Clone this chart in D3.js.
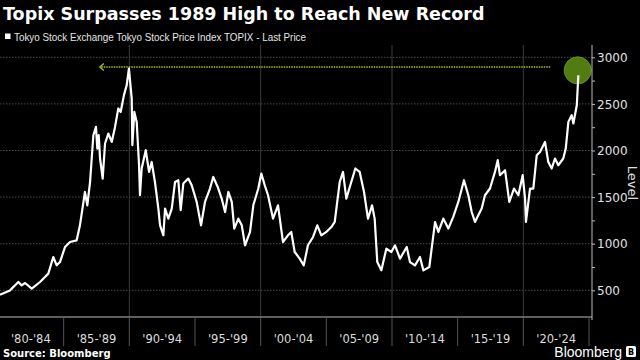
<!DOCTYPE html>
<html><head><meta charset="utf-8">
<script src="https://cdn.jsdelivr.net/npm/d3@7/dist/d3.min.js"></script>
<style>
html,body{margin:0;padding:0;background:#000;}
svg{display:block;}
</style></head>
<body>
<svg id="chart" width="640" height="360"></svg>
<script>
// ---- Data ----
const title = "Topix Surpasses 1989 High to Reach New Record";
const legendLabel = "Tokyo Stock Exchange Tokyo Stock Price Index TOPIX - Last Price";
const periodLabels = ["'80-'84","'85-'89","'90-'94","'95-'99","'00-'04","'05-'09","'10-'14","'15-'19","'20-'24"];
const periodStarts = [1980,1985,1990,1995,2000,2005,2010,2015,2020];
const yTicks = [500,1000,1500,2000,2500,3000];
const years = [
1980.15,1980.91,1981.55,1981.80,1982.06,1982.57,1983.20,1983.83,1984.21,1984.47,1984.72,
1985.10,1985.48,1985.99,1986.24,1986.62,1986.80,1987.01,1987.26,1987.46,1987.56,1987.67,1987.77,1987.97,
1988.15,1988.40,1988.66,1988.91,1989.16,1989.34,1989.59,1989.80,1989.97,
1990.18,1990.23,1990.38,1990.56,1990.74,1990.81,1990.94,1991.25,1991.50,1991.70,1991.95,
1992.21,1992.34,1992.59,1992.72,1992.97,1993.23,1993.48,1993.73,1993.91,1994.11,1994.49,1994.75,
1995.13,1995.46,1995.76,1996.14,1996.39,1996.73,1997.03,1997.29,1997.54,1997.80,1997.99,
1998.30,1998.56,1998.81,1999.19,1999.44,1999.82,
2000.05,2000.31,2000.56,2000.94,2001.32,2001.70,2002.08,2002.33,2002.59,2002.97,2003.28,2003.60,2003.99,
2004.31,2004.62,2005.00,2005.38,2005.64,2006.02,2006.27,2006.52,2006.90,2007.21,2007.54,2007.87,
2008.17,2008.48,2008.68,2008.88,2009.19,2009.57,2009.95,
2010.23,2010.61,2011.12,2011.37,2011.75,2012.13,2012.39,2012.84,2013.28,2013.53,2013.91,2014.29,2014.67,
2015.05,2015.48,2015.81,2016.07,2016.32,2016.57,2016.83,2017.08,2017.46,2017.84,2018.05,2018.22,2018.61,2018.93,
2019.29,2019.62,2019.95,2020.13,2020.20,2020.51,2020.76,2021.02,2021.27,2021.65,2021.90,
2022.16,2022.41,2022.66,2023.04,2023.23,2023.43,2023.68,2023.81,2024.07,2024.19
];
const values = [
453,499,589,553,578,518,589,679,857,768,803,
964,1018,1036,1197,1555,1412,1662,2164,2253,2021,2164,1914,1699,
2075,2182,2092,2253,2451,2414,2594,2701,2880,
2560,2057,2414,2307,1842,1520,1807,2003,1770,1877,1662,
1377,1197,1090,1377,1269,1377,1662,1681,1359,1645,1699,1627,
1448,1197,1448,1592,1716,1609,1484,1340,1555,1448,1162,
1269,1197,983,1126,1412,1592,
1753,1627,1520,1269,1412,1018,1090,1126,911,840,768,983,1072,
1197,1090,1126,1179,1233,1662,1770,1484,1662,1807,1770,1555,
1269,1412,1269,803,714,947,911,
983,840,964,803,768,857,714,750,1233,1126,1269,1162,1290,
1448,1681,1520,1340,1233,1305,1377,1520,1592,1770,1896,1735,1788,1448,
1592,1520,1735,1484,1233,1592,1592,1949,1985,2092,1877,
1807,1914,1842,1914,2021,2307,2379,2290,2486,2808
];
const prior1989High = 2880;
const arrowFromYear = 2022.05;
const arrowToYear = 1987.75;
const circleYear = 2024.14;
const circleValue = 2860;

// ---- Layout ----
const svg = d3.select("#chart");
const W = 640, H = 360;
const axisX = 592, plotTop = 45, plotBottom = 317;
const x = d3.scaleLinear().domain([1980, 2025]).range([-2, 589]);
const y = d3.scaleLinear().domain([500, 3000]).range([290.3, 57.3]);

svg.append("rect").attr("width", W).attr("height", H).attr("fill", "#000");

// title
const tt = svg.append("text").attr("x", 3).attr("y", 20)
  .attr("font-family", "DejaVu Sans").attr("font-weight", "bold")
  .attr("font-size", 17.5).attr("fill", "#fff").text(title);
const tl = tt.node().getComputedTextLength();
if (Math.abs(tl - 484) > 3) tt.attr("textLength", 484).attr("lengthAdjust", "spacingAndGlyphs");

// legend
svg.append("rect").attr("x", 5).attr("y", 33.5).attr("width", 5.5).attr("height", 5.5).attr("fill", "#fff");
const lt = svg.append("text").attr("x", 14).attr("y", 41)
  .attr("font-family", "Liberation Sans, Arial, sans-serif").attr("font-size", 10.5)
  .attr("fill", "#e6e6e6").text(legendLabel);
const ll = lt.node().getComputedTextLength();
if (Math.abs(ll - 292) > 3) lt.attr("textLength", 292).attr("lengthAdjust", "spacingAndGlyphs");

// gridlines
const grid = svg.append("g");
grid.selectAll("line.h").data(yTicks).join("line")
  .attr("x1", 0).attr("x2", axisX).attr("y1", d => y(d)).attr("y2", d => y(d))
  .attr("stroke", "#4a4a4a").attr("stroke-width", 1).attr("stroke-dasharray", "1.5,1.5");
grid.selectAll("line.v").data([1990, 2000, 2010, 2020]).join("line")
  .attr("x1", d => x(d)).attr("x2", d => x(d)).attr("y1", plotTop).attr("y2", plotBottom)
  .attr("stroke", "#3a3a3a").attr("stroke-width", 1);

// arrow (dotted) from the present back to 1989 high
const arrowY = y(prior1989High) - 1.5;
svg.append("line").attr("x1", x(arrowFromYear)).attr("x2", x(arrowToYear) + 1)
  .attr("y1", arrowY).attr("y2", arrowY)
  .attr("stroke", "#a3c02e").attr("stroke-width", 1.6).attr("stroke-dasharray", "1.5,1");
const ax0 = x(arrowToYear);
svg.append("path")
  .attr("d", `M${ax0 + 4},${arrowY - 3.5} L${ax0},${arrowY} L${ax0 + 4},${arrowY + 3.5}`)
  .attr("fill", "none").attr("stroke", "#a3c02e").attr("stroke-width", 1.3);

// circle highlight
svg.append("circle").attr("cx", x(circleYear)).attr("cy", y(circleValue)).attr("r", 13.5)
  .attr("fill", "#527c12").attr("stroke", "#678f22").attr("stroke-width", 1);

// line
const data = years.map((yr, i) => ({ yr, v: values[i] }));
svg.append("defs").append("clipPath").attr("id", "clip")
  .append("rect").attr("x", 0).attr("y", 0).attr("width", axisX).attr("height", plotBottom);
svg.append("path").datum(data).attr("clip-path", "url(#clip)")
  .attr("d", d3.line().x(d => x(d.yr)).y(d => y(d.v)))
  .attr("fill", "none").attr("stroke", "#fff").attr("stroke-width", 2.2)
  .attr("stroke-linejoin", "round");

// right axis
const minor = d3.range(250, 3001, 250);
const yAxis = d3.axisRight(y).tickValues(minor).tickSize(3)
  .tickFormat(d => yTicks.includes(d) ? d : "");
const ya = svg.append("g").attr("transform", `translate(${axisX},0)`).call(yAxis);
ya.select(".domain").remove();
ya.selectAll("line").attr("stroke", "#bbb");
ya.selectAll("text").attr("font-family", "DejaVu Sans").attr("font-size", 12)
  .attr("fill", "#e0e0e0").attr("x", 5).attr("dy", "0.35em");
ya.selectAll(".tick").filter(d => d < 500 || d > 3000).remove();
svg.append("line").attr("x1", axisX).attr("x2", axisX).attr("y1", plotTop).attr("y2", plotBottom + 3)
  .attr("stroke", "#bbb").attr("stroke-width", 1);

svg.append("text").attr("transform", `translate(628,183) rotate(90)`)
  .attr("text-anchor", "middle").attr("font-family", "DejaVu Sans").attr("font-size", 13)
  .attr("fill", "#e0e0e0").text("Level");

// bottom axis
svg.append("line").attr("x1", 0).attr("x2", axisX).attr("y1", plotBottom).attr("y2", plotBottom)
  .attr("stroke", "#bbb").attr("stroke-width", 1);
const xb = svg.append("g");
xb.selectAll("line").data(periodStarts.slice(1).concat([2025])).join("line")
  .attr("x1", d => x(d)).attr("x2", d => x(d)).attr("y1", plotBottom).attr("y2", 346)
  .attr("stroke", "#555").attr("stroke-width", 1);
xb.selectAll("text").data(periodStarts).join("text")
  .attr("x", d => x(d + 2.5)).attr("y", 343).attr("text-anchor", "middle")
  .attr("font-family", "DejaVu Sans").attr("font-size", 11.5).attr("fill", "#dcdcdc")
  .text((d, i) => periodLabels[i]);

// footer
svg.append("text").attr("x", 3).attr("y", 357).attr("font-family", "DejaVu Sans")
  .attr("font-weight", "bold").attr("font-size", 10).attr("fill", "#fff").text("Source: Bloomberg");
svg.append("text").attr("x", 622).attr("y", 357).attr("text-anchor", "end")
  .attr("font-family", "Liberation Sans, Arial, sans-serif").attr("font-size", 14)
  .attr("fill", "#fff").text("Bloomberg");
svg.append("rect").attr("x", 626).attr("y", 346).attr("width", 10).attr("height", 11)
  .attr("rx", 1.5).attr("fill", "#fff");
svg.append("text").attr("x", 631).attr("y", 355).attr("text-anchor", "middle")
  .attr("font-family", "DejaVu Sans").attr("font-weight", "bold").attr("font-size", 8)
  .attr("fill", "#000").text("B");
</script>
</body></html>
